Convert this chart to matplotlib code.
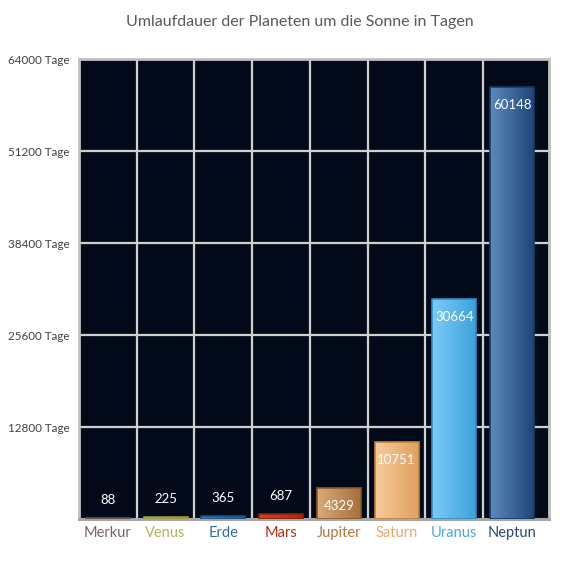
import numpy as np
import matplotlib
matplotlib.use("Agg")
from matplotlib import pyplot as plt
from matplotlib.colors import LinearSegmentedColormap

plt.rcParams['font.family'] = ['Lato', 'DejaVu Sans']

# Daten
planeten = ["Merkur", "Venus", "Erde", "Mars", "Jupiter", "Saturn", "Uranus", "Neptun"]
tage = [88, 225, 365, 687, 4329, 10751, 30664, 60148]
yticks = [12800, 25600, 38400, 51200, 64000]
ytick_labels = ["12800 Tage", "25600 Tage", "38400 Tage", "51200 Tage", "64000 Tage"]

# Farben: links hell, rechts dunkel, Rand, Beschriftung
farbe_links = ["#9a8080", "#c8c878", "#3a82c0", "#c84828", "#d8aa7a", "#f8ca9a", "#7ccbf8", "#5c8abc"]
farbe_rechts = ["#7a6060", "#a8a850", "#1a5e9c", "#a82a0c", "#a87038", "#e0a062", "#3ea2dc", "#1e4676"]
farbe_rand = ["#6a5050", "#989840", "#154f84", "#90220a", "#8a5a2a", "#c08040", "#2e8cc4", "#1a3a60"]
farbe_text = ["#7a6464", "#b4b45a", "#2a6ca8", "#b03018", "#b07840", "#e8a870", "#4aa8e0", "#284a78"]

fig = plt.figure(figsize=(5.7, 5.7), dpi=100)
ax = fig.add_axes([79 / 570, 51 / 570, 470 / 570, 460 / 570])
ax.set_facecolor("#020a1a")

x = np.arange(len(planeten))
breite = 0.76

# Gitter
for y in yticks[:-1]:
    ax.axhline(y, color="#d0d0d0", lw=1.6, zorder=1)
for k in range(len(planeten) - 1):
    ax.axvline(k + 0.5, color="#d0d0d0", lw=1.6, zorder=1)

bars = ax.bar(x, tage, width=breite, color=farbe_rechts, zorder=2, linewidth=0)

verlauf = np.linspace(0, 1, 64).reshape(1, -1)
for i, b in enumerate(bars):
    cmap = LinearSegmentedColormap.from_list("g%d" % i, [farbe_links[i], farbe_rechts[i]])
    x0 = b.get_x()
    im = ax.imshow(verlauf, cmap=cmap, extent=(x0, x0 + breite, 0, tage[i]),
                   aspect="auto", interpolation="bicubic", zorder=3)
    im.set_clip_path(b)
ax.bar(x, tage, width=breite, fill=False, edgecolor=farbe_rand, linewidth=1.2, zorder=4)

# Werte
for i, v in enumerate(tage):
    if v > 3000:
        ax.annotate(str(v), (x[i], v), xytext=(0, -13), textcoords="offset points",
                    ha="center", va="center", color="white", fontsize=9.5, zorder=5)
    else:
        ax.annotate(str(v), (x[i], v), xytext=(0, 13), textcoords="offset points",
                    ha="center", va="center", color="white", fontsize=9.5, zorder=5)

ax.set_xlim(-0.5, 7.64)
ax.set_ylim(0, 64000)

ax.set_yticks(yticks)
ax.set_yticklabels(ytick_labels, fontsize=8.4, color="#404040")
for t in ax.get_yticklabels():
    t.set_horizontalalignment("left")
ax.tick_params(axis="y", length=0, pad=51)

ax.set_xticks(x)
ax.set_xticklabels(planeten, fontsize=10.5)
for t, c in zip(ax.get_xticklabels(), farbe_text):
    t.set_color(c)
ax.tick_params(axis="x", length=0, pad=5)

for s in ["left", "top", "right"]:
    ax.spines[s].set_color("#c0c0c0")
    ax.spines[s].set_linewidth(2)
ax.spines["bottom"].set_color("#a6a6a6")
ax.spines["bottom"].set_linewidth(2.2)

fig.text(300 / 570, 1 - 22 / 570, "Umlaufdauer der Planeten um die Sonne in Tagen",
         ha="center", va="center", fontsize=11.5, color="#595959")

plt.savefig("out.png", dpi=100)
